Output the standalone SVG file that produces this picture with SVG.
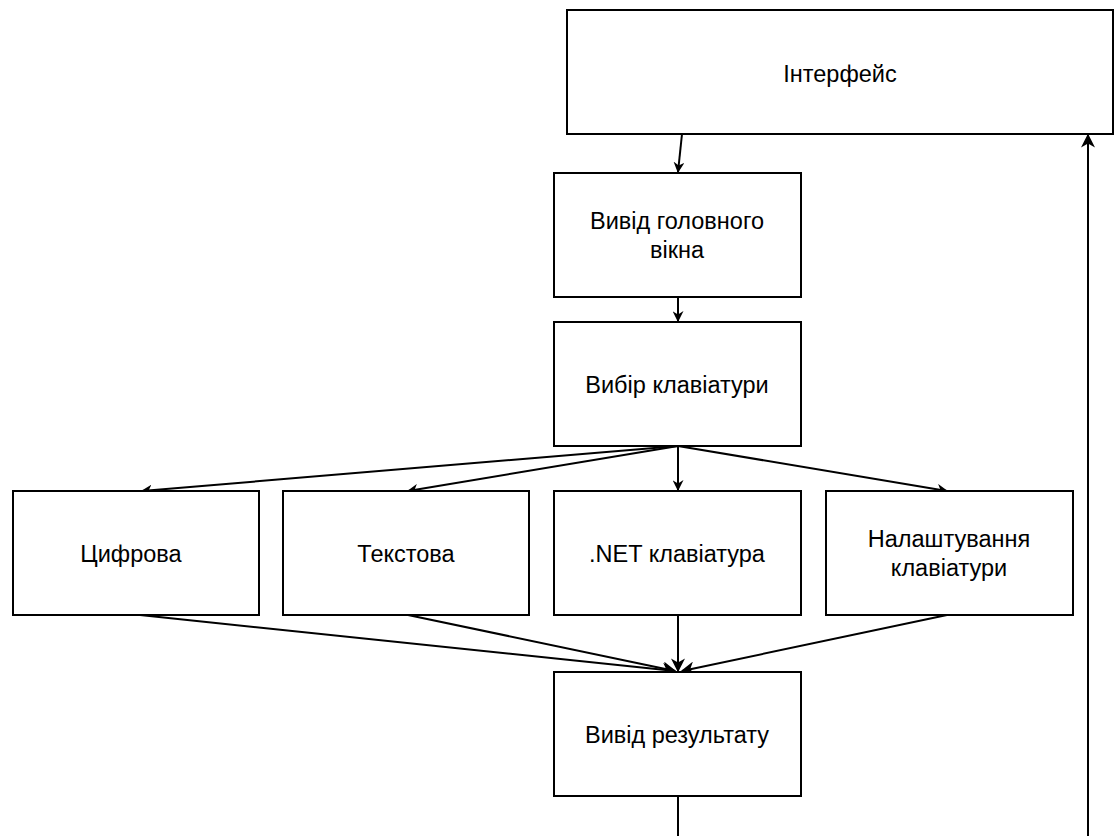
<svg xmlns="http://www.w3.org/2000/svg" width="1117" height="836" viewBox="0 0 1117 836">
<defs>
<marker id="ah" viewBox="0 0 10 10" refX="9" refY="5" markerWidth="11" markerHeight="11" markerUnits="userSpaceOnUse" orient="auto">
<path d="M0,0 L10,5 L0,10 L3,5 Z" fill="#000"/>
</marker>
<marker id="ahb" viewBox="0 0 10 10" refX="9" refY="5" markerWidth="14" markerHeight="14" markerUnits="userSpaceOnUse" orient="auto">
<path d="M0,0 L10,5 L0,10 L3,5 Z" fill="#000"/>
</marker>
</defs>
<style>
.box{fill:#fff;stroke:#000;stroke-width:2}
.t{font-family:"Liberation Sans",Arial,sans-serif;font-size:23.5px;fill:#000;text-anchor:middle;dominant-baseline:central}
.c{fill:none;stroke:#000;stroke-width:2}
</style>
<rect width="1117" height="836" fill="#fff"/>
<g id="connectors">
<line class="c" x1="682" y1="134" x2="678" y2="172" marker-end="url(#ah)"/>
<line class="c" x1="678" y1="297" x2="678" y2="321" marker-end="url(#ah)"/>
<line class="c" x1="678" y1="446" x2="142" y2="491" marker-end="url(#ah)"/>
<line class="c" x1="678" y1="446" x2="408" y2="491" marker-end="url(#ah)"/>
<line class="c" x1="678" y1="446" x2="678" y2="490" marker-end="url(#ah)"/>
<line class="c" x1="678" y1="446" x2="947" y2="491" marker-end="url(#ah)"/>
<line class="c" x1="140" y1="615" x2="675" y2="671" marker-end="url(#ahb)"/>
<line class="c" x1="408" y1="615" x2="675" y2="671" marker-end="url(#ahb)"/>
<line class="c" x1="678" y1="615" x2="678" y2="671" marker-end="url(#ahb)"/>
<line class="c" x1="947" y1="615" x2="682" y2="671" marker-end="url(#ahb)"/>
<line class="c" x1="678" y1="796" x2="678" y2="836"/>
<line class="c" x1="1088" y1="836" x2="1088" y2="135" marker-end="url(#ahb)"/>
</g>
<g id="n-interface"><rect class="box" x="567" y="10" width="546" height="124"/><text class="t" x="840" y="74">Інтерфейс</text></g>
<g id="n-main"><rect class="box" x="554" y="173" width="247" height="124"/><text class="t" x="677" y="221">Вивід головного</text><text class="t" x="677" y="250">вікна</text></g>
<g id="n-choose"><rect class="box" x="554" y="322" width="247" height="124"/><text class="t" x="677" y="385">Вибір клавіатури</text></g>
<g id="n-digit"><rect class="box" x="13" y="491" width="246" height="124"/><text class="t" x="131" y="554">Цифрова</text></g>
<g id="n-text"><rect class="box" x="283" y="491" width="246" height="124"/><text class="t" x="406" y="554">Текстова</text></g>
<g id="n-net"><rect class="box" x="554" y="491" width="247" height="124"/><text class="t" x="677" y="554">.NET клавіатура</text></g>
<g id="n-settings"><rect class="box" x="826" y="491" width="247" height="124"/><text class="t" x="949" y="539">Налаштування</text><text class="t" x="949" y="568">клавіатури</text></g>
<g id="n-result"><rect class="box" x="554" y="672" width="247" height="124"/><text class="t" x="677" y="735">Вивід результату</text></g>
</svg>
